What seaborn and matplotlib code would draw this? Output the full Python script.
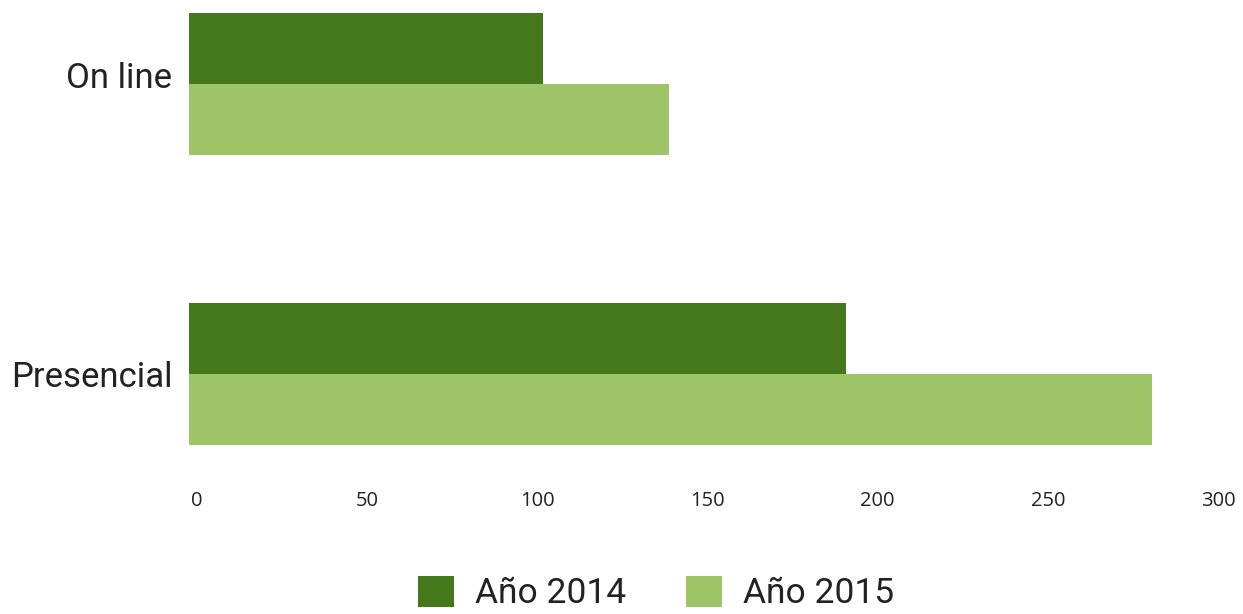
import matplotlib
matplotlib.use("Agg")
import matplotlib.pyplot as plt
import matplotlib.transforms as mtransforms
from matplotlib.patches import Patch
import seaborn as sns
import pandas as pd

categories = ["On line", "Presencial"]
years = ["Año 2014", "Año 2015"]
values_2014 = [104, 193]
values_2015 = [141, 283]
x_ticks = [0, 50, 100, 150, 200, 250, 300]
colors = ["#45781b", "#9dc466"]

df = pd.DataFrame({
    "categoria": categories * 2,
    "año": [years[0]] * 2 + [years[1]] * 2,
    "valor": values_2014 + values_2015,
})

sns.set_theme(style="white")
plt.rcParams["font.family"] = ["Roboto", "DejaVu Sans"]

W, H = 1243, 614
fig = plt.figure(figsize=(W / 100, H / 100), dpi=100)
ax = fig.add_axes([189 / W, 1 - 460 / H, (1210 - 189) / W, 460 / H])

sns.barplot(data=df, y="categoria", x="valor", hue="año", orient="h",
            palette=colors, width=0.49, saturation=1, ax=ax, legend=False,
            linewidth=0, edgecolor="none")

ax.set_xlim(0, 300)
ax.set_ylim(1 + (460 - 374) / 290, -84 / 290)
ax.set_xticks(x_ticks)
ax.set_xticklabels([str(t) for t in x_ticks], fontfamily="Open Sans", fontsize=14.5, color="#222222")
ax.tick_params(axis="x", length=0, pad=22)
ax.tick_params(axis="y", length=0, pad=12, labelsize=25, labelcolor="#222222")
ax.set_xlabel("")
ax.set_ylabel("")
for s in ax.spines.values():
    s.set_visible(False)
ax.grid(False)

offset = mtransforms.ScaledTranslation(8 / 100, 0, fig.dpi_scale_trans)
for lbl in ax.get_xticklabels():
    lbl.set_transform(lbl.get_transform() + offset)

ylbls = ax.get_yticklabels()
up = mtransforms.ScaledTranslation(0, 9 / 100, fig.dpi_scale_trans)
ylbls[0].set_transform(ylbls[0].get_transform() + up)

handles = [Patch(facecolor=c, edgecolor="none") for c in colors]
fig.legend(handles, years, loc="center", bbox_to_anchor=(656 / W, 1 - 593 / H),
           ncol=2, frameon=False, fontsize=25.5, handlelength=1.0, handleheight=1.0,
           handletextpad=0.6, columnspacing=1.7, labelcolor="#222222",
           borderpad=0.2)

fig.savefig("out.png", dpi=100)
